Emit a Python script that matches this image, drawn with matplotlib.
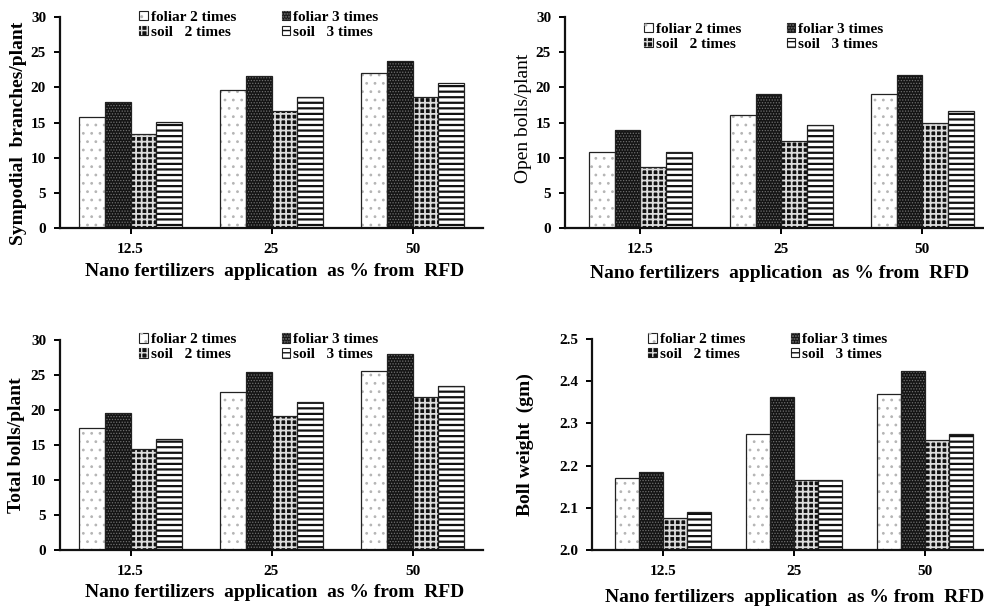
import matplotlib
matplotlib.use("Agg")
import matplotlib.pyplot as plt
import numpy as np
from matplotlib.patches import Patch
from matplotlib.legend_handler import HandlerTuple

plt.rcParams['font.family'] = ['Liberation Serif', 'DejaVu Serif']
plt.rcParams['font.weight'] = 'bold'
plt.rcParams['hatch.linewidth'] = 1.0

# data
doses = ['12.5', '25', '50']
series = ['foliar 2 times', 'foliar 3 times', 'soil   2 times', 'soil   3 times']

sympodial = {
    'foliar 2 times': [15.85, 19.55, 22.1],
    'foliar 3 times': [17.85, 21.55, 23.8],
    'soil   2 times': [13.3, 16.7, 18.65],
    'soil   3 times': [15.1, 18.65, 20.6],
}
open_bolls = {
    'foliar 2 times': [10.8, 16.1, 19.0],
    'foliar 3 times': [14.0, 19.0, 21.7],
    'soil   2 times': [8.7, 12.3, 14.9],
    'soil   3 times': [10.8, 14.6, 16.7],
}
total_bolls = {
    'foliar 2 times': [17.45, 22.6, 25.6],
    'foliar 3 times': [19.55, 25.5, 27.95],
    'soil   2 times': [14.45, 19.1, 21.8],
    'soil   3 times': [15.85, 21.2, 23.5],
}
boll_weight = {
    'foliar 2 times': [2.171, 2.276, 2.370],
    'foliar 3 times': [2.186, 2.362, 2.423],
    'soil   2 times': [2.076, 2.167, 2.260],
    'soil   3 times': [2.089, 2.167, 2.276],
}

# face colour, hatch, hatch colour, hatch width for each series
styles = {
    'foliar 2 times': ('white', '..', '#b5b5b5', 0.8),
    'foliar 3 times': ('#141414', '......', '#707070', 0.6),
    'soil   2 times': ('#111111', '+++', '#dcdcdc', 1.3),
    'soil   3 times': ('white', '---', '#111111', 1.6),
}

xlabel = 'Nano fertilizers  application  as % from  RFD'
W, H = 984, 612
fig = plt.figure(figsize=(W / 100, H / 100), dpi=100)


def px_axes(left, right, top, bottom):
    return fig.add_axes([left / W, 1 - bottom / H, (right - left) / W, (bottom - top) / H])


panels = [
    # data, ylabel, ylim, yticks, fmt, axes px (l, r, t, b), xlim, ylabel pos, xlabel pos, legend anchor
    (sympodial, 'Sympodial  branches/plant', (0, 30), np.arange(0, 31, 5), '{:.0f}',
     (60, 483, 17, 228), (-0.5, 2.5), (-0.078, 0.45), (0.508, -0.165), (0.187, 1.03), 'bold'),
    (open_bolls, 'Open bolls/plant', (0, 30), np.arange(0, 31, 5), '{:.0f}',
     (565, 988, 17, 228), (-0.535, 2.465), (-0.078, 0.522), (0.508, -0.175), (0.187, 0.972), 'normal'),
    (total_bolls, 'Total bolls/plant', (0, 30), np.arange(0, 31, 5), '{:.0f}',
     (60, 483, 340, 550), (-0.5, 2.5), (-0.083, 0.5), (0.508, -0.162), (0.187, 1.031), 'bold'),
    (boll_weight, 'Boll weight  (gm)', (2.0, 2.5), np.arange(2.0, 2.51, 0.1), '{:.1f}',
     (592, 985, 339, 550), (-0.54, 2.46), (-0.148, 0.5), (0.516, -0.185), (0.143, 1.027), 'bold'),
]

bw = 0.183
x = np.arange(len(doses))

for data, ylab, ylim, yticks, fmt, box, xlim, ylpos, xlpos, leg_anchor, ylw in panels:
    ax = px_axes(*box)
    handles = []
    for i, name in enumerate(series):
        face, hatch, hcol, hlw = styles[name]
        pos = x + (i - 1.5) * bw
        base = ylim[0]
        vals = np.array(data[name]) - base
        ax.bar(pos, vals, bw, bottom=base, color=face, edgecolor='none', linewidth=0)
        with plt.rc_context({'hatch.linewidth': hlw}):
            ax.bar(pos, vals, bw, bottom=base, facecolor='none', edgecolor=hcol,
                   hatch=hatch, linewidth=0)
            h2 = Patch(facecolor='none', edgecolor=hcol, hatch=hatch, linewidth=0)
        ax.bar(pos, vals, bw, bottom=base, facecolor='none', edgecolor='#222222',
               linewidth=0.9)
        h1 = Patch(facecolor=face, edgecolor='#222222', linewidth=0.8)
        handles.append((h1, h2))

    ax.set_xlim(*xlim)
    ax.set_ylim(*ylim)
    ax.set_xticks(x)
    ax.set_xticklabels(doses)
    ax.set_yticks(yticks)
    ax.set_yticklabels([fmt.format(v) for v in yticks])
    for s in ['top', 'right']:
        ax.spines[s].set_visible(False)
    for s in ['left', 'bottom']:
        ax.spines[s].set_linewidth(1.6)
        ax.spines[s].set_color('#111111')
    ax.tick_params(axis='x', length=4, width=1.4, pad=7, labelsize=11)
    ax.tick_params(axis='y', length=4, width=1.4, pad=6, labelsize=11)
    for lab in ax.get_xticklabels() + ax.get_yticklabels():
        lab.set_fontweight('bold')

    ax.set_ylabel(ylab, fontsize=14, fontweight=ylw)
    ax.yaxis.set_label_coords(*ylpos)
    ax.set_xlabel(xlabel, fontsize=14, fontweight='bold')
    ax.xaxis.set_label_coords(*xlpos)

    order = [0, 2, 1, 3]
    leg = ax.legend([handles[k] for k in order], [series[k] for k in order],
                    handler_map={tuple: HandlerTuple(ndivide=1, pad=0)},
                    ncol=2, loc='upper left', bbox_to_anchor=leg_anchor,
                    frameon=False, fontsize=11, handlelength=0.55, handleheight=0.55,
                    handletextpad=0.2, columnspacing=3.0, labelspacing=0.12,
                    borderpad=0, borderaxespad=0)
    for t in leg.get_texts():
        t.set_fontweight('bold')

fig.savefig('out.png', dpi=100, facecolor='white')
